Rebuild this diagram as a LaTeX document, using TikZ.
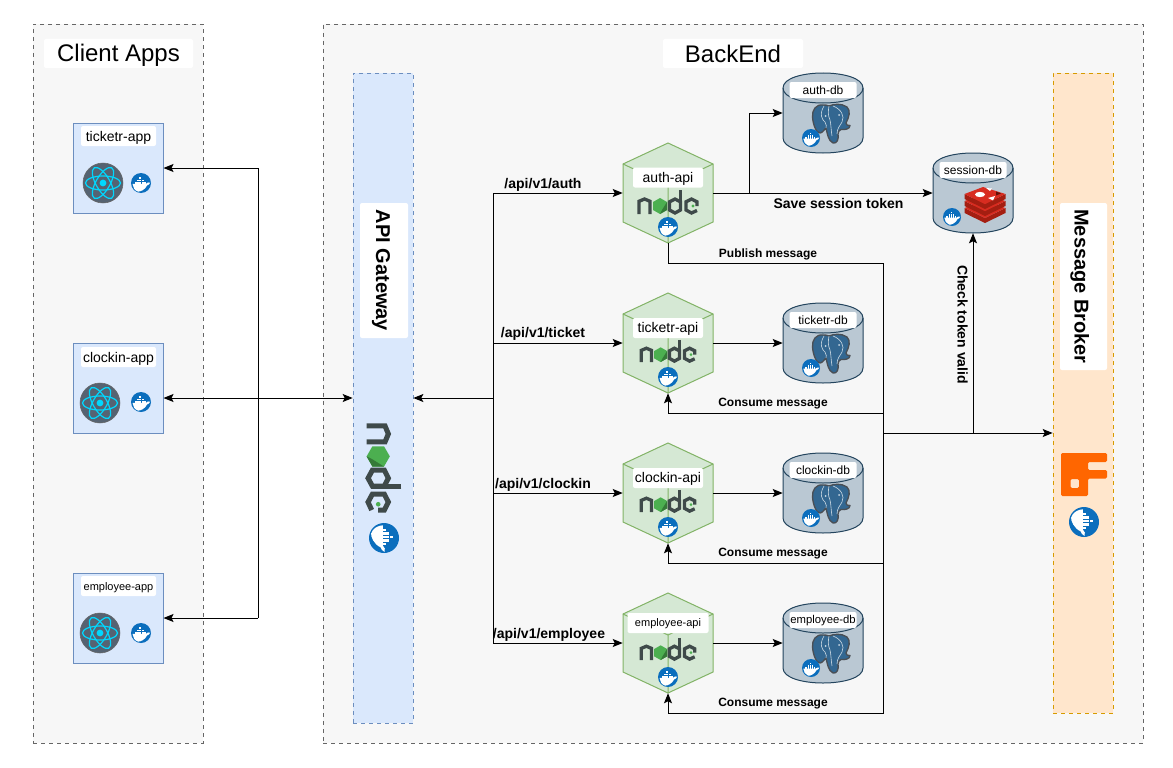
\documentclass[tikz,border=0pt]{standalone}
\usepackage{fontspec}
\setmainfont{Liberation Sans}
\usetikzlibrary{arrows.meta,calc}
\definecolor{grpfill}{HTML}{F7F7F7}
\definecolor{grpline}{HTML}{666666}
\definecolor{bluefill}{HTML}{DAE8FC}
\definecolor{blueline}{HTML}{6C8EBF}
\definecolor{orangefill}{HTML}{FFE6CC}
\definecolor{orangeline}{HTML}{D79B00}
\definecolor{greenfill}{HTML}{D5E8D4}
\definecolor{greenline}{HTML}{82B366}
\definecolor{dbfill}{HTML}{BAC8D3}
\definecolor{dbline}{HTML}{23445D}
\definecolor{dockerblue}{HTML}{0B6EBD}
\definecolor{nodedark}{HTML}{3F4A4A}
\definecolor{nodegreen}{HTML}{4CAF50}
\definecolor{reactcyan}{HTML}{00D8FF}
\definecolor{reactbg}{HTML}{556372}
\definecolor{pgblue}{HTML}{336791}
\definecolor{pgdark}{HTML}{4A4F55}
\definecolor{rabbit}{HTML}{FF6600}
\definecolor{redisa}{HTML}{A41E11}
\definecolor{redisb}{HTML}{D82C20}
\newcommand{\fpx}[1]{\fontsize{\fpeval{#1*0.75}}{\fpeval{#1*0.9}}\selectfont}
\newcommand{\lift}[2]{\raisebox{#1}[\height][\depth]{#2}}
\tikzset{
  x=0.75pt,y=-0.75pt,
  group/.style={draw=grpline,fill=grpfill,dashed,line width=0.5pt,rectangle,inner sep=0pt},
  whitelabel/.style={fill=white,rounded corners=1.5pt,inner sep=0pt,text=black,align=center},
  appbox/.style={draw=blueline,fill=bluefill,line width=0.75pt,minimum width=90*0.75pt,minimum height=90*0.75pt,inner sep=0pt},
  barblue/.style={draw=blueline,fill=bluefill,dashed,line width=0.5pt,minimum width=60*0.75pt,minimum height=650*0.75pt,inner sep=0pt},
  barorange/.style={draw=orangeline,fill=orangefill,dashed,line width=0.5pt,minimum width=60*0.75pt,minimum height=640*0.75pt,inner sep=0pt},
  anchorbox/.style={rectangle,draw=none,inner sep=0pt},
  link/.style={line width=0.75pt,draw=black},
  arrowed/.style={link,-{Stealth[length=7.5pt,width=6pt,inset=1.5pt]}},
  twoway/.style={link,{Stealth[length=7.5pt,width=6pt,inset=1.5pt]}-{Stealth[length=7.5pt,width=6pt,inset=1.5pt]}},
  edgetext/.style={font=\bfseries\fpx{14},inner sep=0pt,text=black,yshift=-1.2pt},
  edgesmall/.style={font=\bfseries\fpx{12},inner sep=0pt,text=black,yshift=-1.5pt},
  pics/docker/.style={code={
    \fill[dockerblue] (0,0) circle [radius=10];
    \fill[white] (-8.5,0.8) -- (5,0.8) .. controls (6,-0.6) and (8,-1) .. (9.3,-0.3)
       .. controls (8.5,1.5) and (7,2) .. (6.3,2.2) .. controls (4,7) and (-1,8.8) .. (-3,8.6)
       .. controls (-6.5,7.5) and (-8.3,4) .. (-8.5,0.8) -- cycle;
    \foreach \cx in {-6.2,-3.9,-1.6,0.7,3.0} \fill[white] (\cx,-1.1) rectangle ++(1.8,1.8);
    \foreach \cx in {-3.9,-1.6,0.7} \fill[white] (\cx,-3.4) rectangle ++(1.8,1.8);
    \fill[white] (-1.6,-5.7) rectangle ++(1.8,1.8);
  }},
  pics/react/.style={code={
    \fill[reactbg] (0,0) circle [radius=20];
    \draw[black!60,line width=0.4pt] (0,0) circle [radius=20];
    \foreach \ang in {0,60,120}
      \draw[reactcyan,line width=0.9pt,rotate=\ang] (0,0) ellipse [x radius=17.5,y radius=7];
    \fill[reactcyan] (0,0) circle [radius=3.4];
  }},
  pics/nodelogo/.style={code={
    \begin{scope}[line width=#1,nodedark,line join=miter]
      \draw (-29,12) -- (-29,-0.7) -- (-23.5,-3) -- (-18,-0.7) -- (-18,12);
      \draw (7,-3) -- (12.5,-0.2) -- (12.5,8) -- (7,11) -- (1.5,8) -- (1.5,-0.2) -- cycle;
      \draw (12.5,-12) -- (12.5,9);
      \draw (29,8.5) -- (23.5,11) -- (18,8) -- (18,-0.2) -- (23.5,-3) -- (29,-0.2) -- (29,4);
    \end{scope}
    \fill[nodegreen] (-8,-4) -- (-1,0) -- (-1,8) -- (-8,12) -- (-15,8) -- (-15,0) -- cycle;
    \fill[nodegreen!70!black] (-8,12) -- (-1,8) -- (-1,0) -- (-6,8) -- cycle;
    \fill[nodegreen] (25,4) circle [radius=1.6];
  }},
  pics/elephant/.style={code={
    \path[fill=pgblue,draw=pgdark,line width=1pt,line join=round]
      (-8,-19) .. controls (-15,-20) and (-19,-14) .. (-18.5,-7)
      .. controls (-18,0) and (-15,9) .. (-11,9)
      .. controls (-9,9) and (-7,6) .. (-5,4)
      .. controls (-4,8) and (-3,17) .. (2,19)
      .. controls (6,20) and (8,15) .. (7,10)
      .. controls (7,8) and (8,6) .. (10,5.5)
      .. controls (14,6) and (19,5) .. (19,1.5)
      .. controls (17,2) and (15,1) .. (15,-1)
      .. controls (18,-7) and (20,-13) .. (16,-17)
      .. controls (10,-21) and (3,-20) .. (-2,-18)
      .. controls (-4,-19) and (-6,-19) .. (-8,-19) -- cycle;
    \draw[white!75!pgblue,line width=0.45pt] (-7,-18) .. controls (-12,-10) and (-9,-4) .. (-6,-2)
      .. controls (-4,0) and (-5,3) .. (-5,4);
    \draw[white!75!pgblue,line width=0.45pt] (-2,-18) .. controls (-3,-13) and (-3,-8) .. (-1,-4)
      .. controls (0,0) and (0,6) .. (1,12);
    \draw[white!75!pgblue,line width=0.45pt] (2,-18) .. controls (10,-15) and (14,-8) .. (11,-2)
      .. controls (9,2) and (6,4) .. (6,10);
    \fill[white!75!pgblue] (-5.5,-8) circle [radius=1];
    \fill[white!75!pgblue] (8,-9) circle [radius=1];
  }},
  pics/redis/.style={code={
    \foreach \ly in {11,4,-3}{
      \fill[redisa] (-20.5,\ly-8) -- (0,\ly+2) -- (20.5,\ly-8) -- (20.5,\ly-3) -- (0,\ly+7) -- (-20.5,\ly-3) -- cycle;
      \fill[redisb] (-20.5,\ly-8) -- (-2,\ly-15) -- (20.5,\ly-8) -- (0,\ly+2) -- cycle;
    }
    \fill[white] (-5,-10.5) ellipse [x radius=5,y radius=2.6];
    \fill[white] (1,-17) -- (7,-16.5) -- (5,-14) -- cycle;
    \fill[white] (3,-7) -- (10,-9) -- (8,-4.5) -- cycle;
    \fill[redisa!60!black] (11,-13.5) -- (16,-11.5) -- (11,-9.5) -- cycle;
  }},
  pics/rabbitlogo/.style={code={
    \fill[rabbit,even odd rule,rounded corners=1pt]
      (0,0) -- (46,0) -- (46,9) -- (27,9) -- (27,17) -- (46,17) -- (46,25.5) -- (27,25.5) -- (27,43) -- (0,43) -- cycle
      (9.5,26) -- (18,26) -- (18,35) -- (9.5,35) -- cycle;
  }},
}
\newcommand{\apphex}[8]{% name, y, label, px size, label width, label dy, logo dy, logo scale
  \begin{scope}[shift={(668,#2)}]
    \node[anchorbox,minimum width=90*0.75pt,minimum height=100*0.75pt] (#1) at (0,0) {};
    \draw[fill=greenfill,draw=greenline,line width=0.75pt,line join=miter]
      (0,-50) -- (45,-29) -- (45,29) -- (0,50) -- (-45,29) -- (-45,-29) -- cycle;
    \draw[greenline,line width=0.75pt] (-45,-29) -- (0,-8) -- (45,-29) (0,-8) -- (0,50);
    \node[whitelabel,minimum width=#5*0.75pt,minimum height=20*0.75pt,font=\fpx{#4}] (#1label) at (0,#6) {\lift{-0.8pt}{#3}};
    \pic[scale=#8] at (0,#7) {nodelogo=2.5pt};
    \pic at (0,34) {docker};
  \end{scope}
}
\newcommand{\dbcyl}[5]{% name, x, y, label, px size
  \begin{scope}[shift={(#2,#3)}]
    \node[anchorbox,minimum width=80*0.75pt,minimum height=80*0.75pt] (#1) at (0,0) {};
    \draw[fill=dbfill,draw=dbline,line width=0.75pt]
      (-40,-25) -- (-40,25) .. controls (-40,45) and (40,45) .. (40,25) -- (40,-25)
      .. controls (40,-45) and (-40,-45) .. (-40,-25) -- cycle;
    \draw[dbline,line width=0.75pt] (-40,-25) .. controls (-40,-5) and (40,-5) .. (40,-25);
    \node[whitelabel,minimum width=67*0.75pt,minimum height=16*0.75pt,font=\fpx{#5}] (#1label) at (0,-23) {\lift{-0.5pt}{#4}};
  \end{scope}
}
\begin{document}
\begin{tikzpicture}
\useasboundingbox[fill=white] (0,0) rectangle (1173,767);
% groups
\node[group,minimum width=170*0.75pt,minimum height=719*0.75pt] (clients) at (118,383.5) {};
\node[group,minimum width=820*0.75pt,minimum height=719*0.75pt] (backend) at (733,383.5) {};
\node[whitelabel,minimum width=149*0.75pt,minimum height=29*0.75pt,font=\fpx{24}] (clientstitle) at (118.5,53.5) {\lift{-1.5pt}{Client Apps}};
\node[whitelabel,minimum width=140*0.75pt,minimum height=29*0.75pt,font=\fpx{24}] (backendtitle) at (733,53.5) {BackEnd};
% client apps
\node[appbox] (ticketrapp) at (118,168) {};
\node[appbox] (clockinapp) at (118,388) {};
\node[appbox] (employeeapp) at (118,618) {};
\node[whitelabel,minimum width=75*0.75pt,minimum height=20*0.75pt,font=\fpx{14}] (ticketrapplabel) at (118.5,136) {\lift{-1.3pt}{ticketr-app}};
\node[whitelabel,minimum width=75*0.75pt,minimum height=20*0.75pt,font=\fpx{14}] (clockinapplabel) at (118.5,357) {\lift{-1.3pt}{clockin-app}};
\node[whitelabel,minimum width=75*0.75pt,minimum height=20*0.75pt,font=\fpx{11}] (employeeapplabel) at (118.5,586) {\lift{-1.3pt}{employee-app}};
\pic at (103,183) {react};
\pic at (141,183) {docker};
\pic at (100,403) {react};
\pic at (141,402) {docker};
\pic at (100,633) {react};
\pic at (141,633) {docker};
% bars
\node[barblue] (gateway) at (383,398) {};
\node[barorange] (broker) at (1083,393) {};
\node[whitelabel,minimum width=135*0.75pt,minimum height=48*0.75pt,rotate=-90,font=\bfseries\fpx{20}] (gatewaylabel) at (384,270.5) {\lift{-2.2pt}{API Gateway}};
\node[whitelabel,minimum width=167*0.75pt,minimum height=47*0.75pt,rotate=-90,font=\bfseries\fpx{20}] (brokerlabel) at (1083.5,286.5) {\lift{-2.8pt}{Message Broker}};
\pic[rotate=-90,scale=1.45] at (384,468) {nodelogo=3.8pt};
\pic[rotate=-90,scale=1.5] at (384,538) {docker};
\pic at (1061,453) {rabbitlogo};
\pic[rotate=-90,scale=1.5] at (1084,522) {docker};
% api hexagons
\apphex{authapi}{193}{auth-api}{14}{70}{-15.5}{9}{1}
\apphex{ticketrapi}{343}{ticketr-api}{14}{70}{-15}{8}{0.92}
\apphex{clockinapi}{493}{clockin-api}{14}{70}{-15}{8}{0.92}
\apphex{employeeapi}{643}{employee-api}{11}{81}{-20}{6}{0.92}
% databases
\dbcyl{authdb}{823}{113}{auth-db}{12}
\dbcyl{sessiondb}{973}{193}{session-db}{12}
\dbcyl{ticketrdb}{823}{343}{ticketr-db}{12}
\dbcyl{clockindb}{823}{493}{clockin-db}{12}
\dbcyl{employeedb}{823}{643}{employee-db}{11.3}
\foreach \ey in {124,354,504,654}{
  \pic at (831,\ey) {elephant};
  \pic[scale=0.9] at (811,\ey+14) {docker};
}
\pic at (985,205) {redis};
\pic[scale=0.9] at (952,217) {docker};
% helper points
\coordinate (clientbus) at (258,398);
\coordinate (apibus) at (493,398);
\coordinate (authbend) at (749,193);
\coordinate (bustop) at (883,263);
\coordinate (busbottom) at (883,713);
\coordinate (busticketr) at (883,413);
\coordinate (busbroker) at (883,433);
\coordinate (busclockin) at (883,563);
% client side
\draw[twoway] (clockinapp.east |- gateway.west) -- (gateway.west);
\draw[arrowed] (clientbus |- ticketrapp.east) -- (ticketrapp.east);
\draw[arrowed] (clientbus |- employeeapp.east) -- (employeeapp.east);
\draw[link] (clientbus |- ticketrapp.east) -- (clientbus |- employeeapp.east);
% gateway side
\draw[arrowed] (apibus) -- (gateway.east);
\draw[link] (apibus |- authapi.west) -- (apibus |- employeeapi.west);
\draw[arrowed] (apibus |- authapi.west) -- (authapi.west);
\draw[arrowed] (apibus |- ticketrapi.west) -- (ticketrapi.west);
\draw[arrowed] (apibus |- clockinapi.west) -- (clockinapi.west);
\draw[arrowed] (apibus |- employeeapi.west) -- (employeeapi.west);
% services to databases
\draw[arrowed] (authapi.east) -- (authbend) |- (authdb.west);
\draw[arrowed] (authapi.east) -- (sessiondb.west);
\draw[arrowed] (ticketrapi.east) -- (ticketrdb.west);
\draw[arrowed] (clockinapi.east) -- (clockindb.west);
\draw[arrowed] (employeeapi.east) -- (employeedb.west);
% message bus
\draw[arrowed] (authapi.south) |- (bustop) -- (busbottom) -| (employeeapi.south);
\draw[arrowed] (busticketr) -| (ticketrapi.south);
\draw[arrowed] (busclockin) -| (clockinapi.south);
\draw[arrowed] (busbroker) -- (busbroker -| broker.west);
\draw[arrowed] (busbroker -| sessiondb.south) -- (sessiondb.south);
% edge labels
\node[edgetext] (lauth) at (543,183) {/api/v1/auth};
\node[edgetext] (lticket) at (543,332) {/api/v1/ticket};
\node[edgetext] (lclockin) at (543,483) {/api/v1/clockin};
\node[edgetext] (lemployee) at (549,633) {/api/v1/employee};
\node[edgetext] (lsave) at (838.5,202) {Save session token};
\node[edgetext,rotate=-90,yshift=1.2pt] (lcheck) at (961,323) {Check token valid};
\node[edgesmall] (lpublish) at (768,252) {Publish message};
\node[edgesmall] (lc1) at (773,402) {Consume message};
\node[edgesmall] (lc2) at (773,552) {Consume message};
\node[edgesmall] (lc3) at (773,702) {Consume message};
\end{tikzpicture}
\end{document}
